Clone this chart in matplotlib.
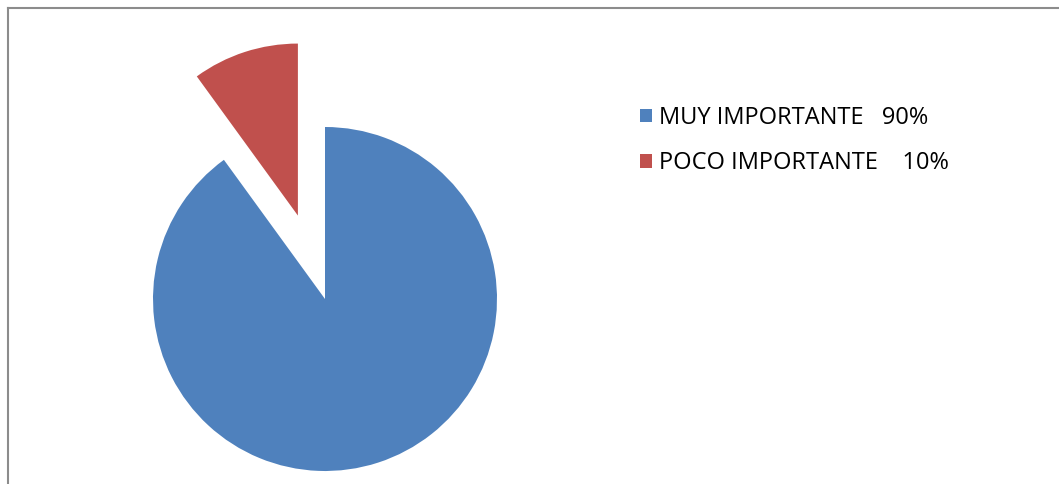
import matplotlib
matplotlib.use("Agg")
import matplotlib.pyplot as plt
from matplotlib.patches import Patch
from matplotlib.lines import Line2D

# Datos
categorias = ["MUY IMPORTANTE", "POCO IMPORTANTE"]
porcentajes = [90, 10]
etiquetas = ["MUY IMPORTANTE   90%", "POCO IMPORTANTE    10%"]
colores = ["#4F81BD", "#C0504D"]

plt.rcParams['font.family'] = ['Open Sans', 'DejaVu Sans']

fig = plt.figure(figsize=(10.59, 4.84), dpi=100)
W, H = 1059, 484

# pastel: centro (325, 299) px, radio 172 px
cx, cy, r = 325, 299, 172
ax = fig.add_axes([(cx - r) / W, (H - cy - r) / H, 2 * r / W, 2 * r / H])
ax.pie(porcentajes, colors=colores, startangle=90, counterclock=False,
       explode=[0, 0.51], radius=1, wedgeprops=dict(linewidth=0))
ax.set_xlim(-1, 1)
ax.set_ylim(-1, 1)
ax.set_aspect('auto')
ax.axis('off')

# Leyenda
handles = [Patch(facecolor=c, edgecolor='none') for c in colores]
fig.legend(handles, etiquetas, loc='upper left', bbox_to_anchor=(640 / W, 1 - 106 / H),
           frameon=False, fontsize=17, handlelength=0.5, handleheight=0.5,
           handletextpad=0.29, labelspacing=0.9, borderpad=0, borderaxespad=0)

# Marco del grafico
fig.add_artist(Line2D([8 / W, 8 / W], [0, 1 - 8 / H], color='#8c8c8c', lw=1.5))
fig.add_artist(Line2D([8 / W, 1], [1 - 8 / H, 1 - 8 / H], color='#8c8c8c', lw=1.5))

fig.savefig("out.png", dpi=100)
